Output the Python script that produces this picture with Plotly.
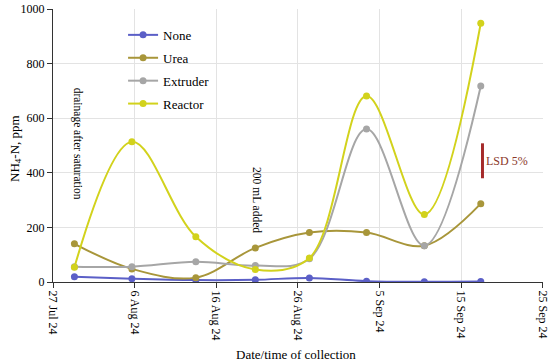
import plotly.graph_objects as go

dates = ["2024-07-29 15:00", "2024-08-05 16:00", "2024-08-13 12:00", "2024-08-20 19:00",
         "2024-08-27 10:00", "2024-09-03 10:00", "2024-09-10 12:00", "2024-09-17 10:00"]
none_vals = [19, 12, 7, 8, 15, 3, 1, 2]
urea_vals = [140, 48, 16, 125, 181, 181, 133, 287]
extruder_vals = [56, 56, 74, 60, 85, 560, 133, 718]
reactor_vals = [54, 514, 166, 46, 88, 681, 247, 948]

series_names = ["None", "Urea", "Extruder", "Reactor"]
series_colors = ["#5b5fc7", "#a8963a", "#a6a6a6", "#d2d21c"]

tick_dates = ["2024-07-27", "2024-08-06", "2024-08-16", "2024-08-26",
              "2024-09-05", "2024-09-15", "2024-09-25"]
tick_labels = ["27 Jul 24", "6 Aug 24", "16 Aug 24", "26 Aug 24",
               "5 Sep 24", "15 Sep 24", "25 Sep 24"]

lsd_x = ["2024-09-17 15:00", "2024-09-17 15:00"]
lsd_y = [380, 508]

FONT = "Liberation Serif"

fig = go.Figure()
for name, vals, col in zip(series_names, [none_vals, urea_vals, extruder_vals, reactor_vals], series_colors):
    fig.add_trace(go.Scatter(
        x=dates, y=vals, name=name, mode="lines+markers", legendgroup=name,
        line=dict(color=col, width=2, shape="spline", smoothing=1.0),
        marker=dict(color=col, size=7),
    ))

fig.add_trace(go.Scatter(
    x=lsd_x, y=lsd_y, mode="lines", showlegend=False,
    line=dict(color="#a52a2a", width=3), hoverinfo="skip",
))

fig.add_annotation(x=lsd_x[0], y=sum(lsd_y) / 2, text="LSD 5%", showarrow=False,
                   xanchor="left", xshift=2, font=dict(family=FONT, size=12, color="#8b3a2a"))
fig.add_annotation(x="2024-07-30", y=505, text="drainage after saturation", textangle=90,
                   showarrow=False, font=dict(family=FONT, size=11.5, color="black"))
fig.add_annotation(x="2024-08-21", y=300, text="200 mL added", textangle=90,
                   showarrow=False, font=dict(family=FONT, size=11.5, color="black"))

# axis titles
fig.add_annotation(xref="paper", yref="paper", x=0.495, y=-0.265, yanchor="middle",
                   text="Date/time of collection", showarrow=False,
                   font=dict(family=FONT, size=13, color="black"))
fig.add_annotation(xref="paper", yref="paper", x=-0.078, y=0.49, xanchor="center",
                   text="NH<sub>4</sub>-N, ppm", textangle=-90, showarrow=False,
                   font=dict(family=FONT, size=13, color="black"))

fig.update_layout(
    width=550, height=363,
    margin=dict(l=53, r=7, t=9, b=81, autoexpand=False),
    paper_bgcolor="white", plot_bgcolor="white",
    font=dict(family=FONT, size=12, color="black"),
    showlegend=True,
    legend=dict(x=0.143, y=0.96, xanchor="left", yanchor="top",
                bgcolor="rgba(0,0,0,0)", font=dict(family=FONT, size=13),
                itemwidth=30, tracegroupgap=3),
    xaxis=dict(
        range=["2024-07-27", "2024-09-25 01:00"], automargin=False,
        tickmode="array", tickvals=tick_dates, ticktext=tick_labels,
        tickangle=90, ticks="outside", ticklen=5, tickcolor="#333",
        ticklabeloverflow="allow",
        showline=True, linecolor="#333", linewidth=1.2,
        showgrid=True, gridcolor="#e3e3e3", gridwidth=1,
        zeroline=False,
        tickfont=dict(family=FONT, size=12),
    ),
    yaxis=dict(
        range=[0, 1000], dtick=200, tick0=0, automargin=False,
        ticks="outside", ticklen=5, tickcolor="#333",
        showline=True, linecolor="#333", linewidth=1.2,
        showgrid=True, gridcolor="#e3e3e3", gridwidth=1,
        zeroline=False,
        tickfont=dict(family=FONT, size=12),
    ),
)

fig.write_html("out.html", config={"displayModeBar": False},
               post_script="document.body.style.margin='0px';document.body.style.overflow='hidden';")
